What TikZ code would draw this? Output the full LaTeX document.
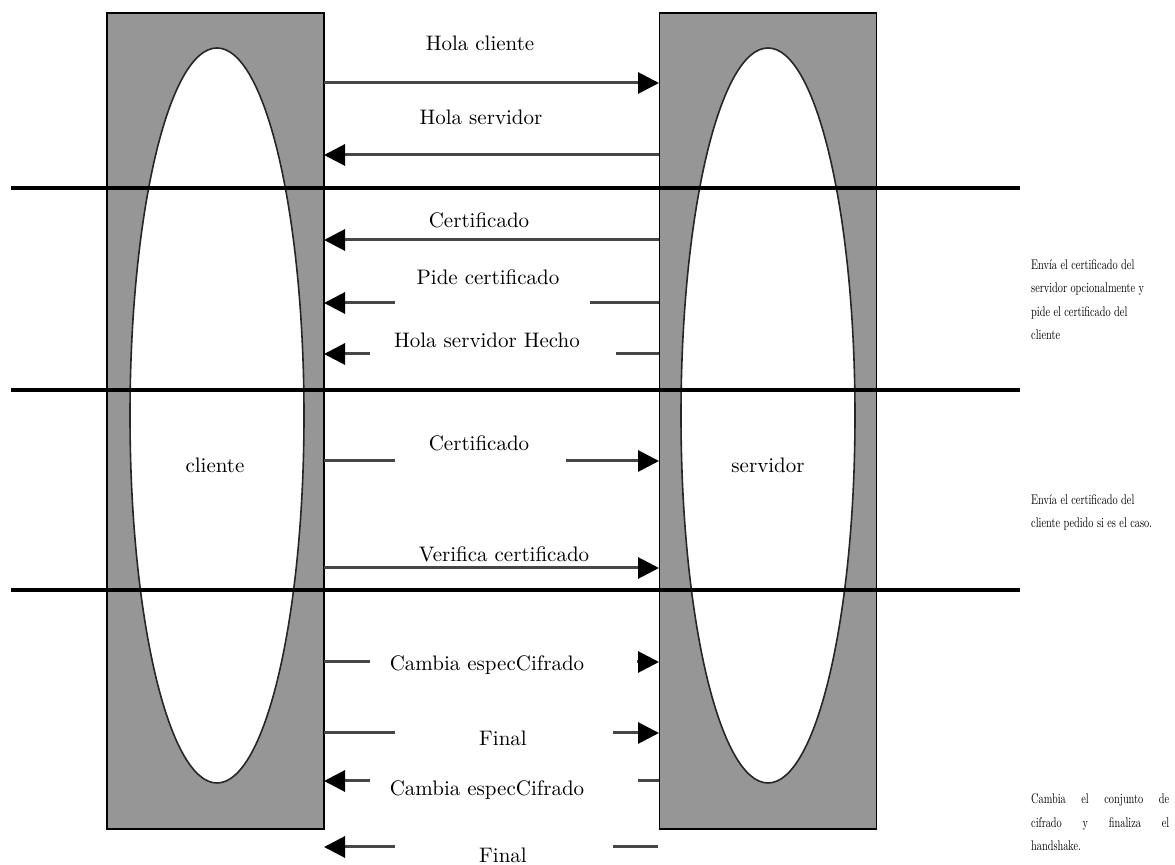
\documentclass[tikz,border=0pt]{standalone}
\usetikzlibrary{arrows.meta,shapes.geometric}
\definecolor{lanegray}{RGB}{150,150,150}
\definecolor{msggray}{RGB}{70,70,70}

\begin{document}
\begin{tikzpicture}[x=0.5pt, y=-0.5pt]
	\tikzstyle{every node}=[align=center, inner sep=1pt, font=\fontsize{10.5}{12}\selectfont]
	\tikzstyle{lane}=[draw=black, line width=0.8pt, fill=lanegray, minimum width=108.5pt, minimum height=408pt, inner sep=0pt]
	\tikzstyle{oval}=[ellipse, draw=black!85, line width=0.8pt, fill=white, minimum width=87pt, minimum height=367.5pt, inner sep=0pt]
	\tikzstyle{msg}=[draw=msggray, line width=1.5pt, arrows={-{Triangle[length=10.5pt, width=10.5pt, color=black]}}]
	\tikzstyle{sep}=[line width=1.8pt, black]
	\tikzstyle{note}=[align=left, anchor=west, inner sep=0pt, font=\fontsize{10}{16.8}\selectfont, xscale=0.515, yscale=0.7, transform shape]

	\useasboundingbox (0,0) rectangle (1175,865);

	\node[lane] (C) at (215.5, 421) {};
	\node[lane] (S) at (768, 421) {};
	\node[oval] (CE) at (217, 415.5) {};
	\node[oval] (SE) at (768, 415.5) {};
	\node (cli) at (215, 465) {cliente};
	\node (srv) at (768, 465) {servidor};

	\draw[sep] (11, 188) -- (1020, 188);
	\draw[sep] (11, 390) -- (1020, 390);
	\draw[sep] (11, 590) -- (1020, 590);

	\coordinate (c1) at (324, 83);   \coordinate (s1) at (659, 83);
	\coordinate (c2) at (324, 155);  \coordinate (s2) at (659, 155);
	\coordinate (c3) at (324, 240);  \coordinate (s3) at (659, 240);
	\coordinate (c4) at (324, 303);  \coordinate (s4) at (659, 303);
	\coordinate (c4x) at (395, 303); \coordinate (s4x) at (590, 303);
	\coordinate (c5) at (324, 354);  \coordinate (s5) at (659, 354);
	\coordinate (c5x) at (370, 354); \coordinate (s5x) at (616, 354);
	\coordinate (c6) at (324, 461);  \coordinate (s6) at (659, 461);
	\coordinate (c6x) at (395, 461); \coordinate (s6x) at (566, 461);
	\coordinate (c7) at (324, 568);  \coordinate (s7) at (659, 568);
	\coordinate (c8) at (324, 662);  \coordinate (s8) at (659, 662);
	\coordinate (c8x) at (370, 662); \coordinate (s8x) at (637, 662);
	\coordinate (c9) at (324, 733);  \coordinate (s9) at (659, 733);
	\coordinate (c9x) at (395, 733); \coordinate (s9x) at (613, 733);
	\coordinate (c10) at (324, 781);  \coordinate (s10) at (659, 781);
	\coordinate (c10x) at (370, 781); \coordinate (s10x) at (638, 781);
	\coordinate (c11) at (324, 847);  \coordinate (s11) at (658, 847);
	\coordinate (c11x) at (395, 847); \coordinate (s11x) at (613, 847);

	\draw[msg] (c1) to (s1);
	\draw[msg] (s2) to (c2);
	\draw[msg] (s3) to (c3);
	\draw[msg] (s4) -- (s4x) (c4x) -- (c4);
	\draw[msg] (s5) -- (s5x) (c5x) -- (c5);
	\draw[msg] (c6) -- (c6x) (s6x) -- (s6);
	\draw[msg] (c7) to (s7);
	\draw[msg] (c8) -- (c8x) (s8x) -- (s8);
	\draw[msg] (c9) -- (c9x) (s9x) -- (s9);
	\draw[msg] (s10) -- (s10x) (c10x) -- (c10);
	\draw[msg] (s11) -- (s11x) (c11x) -- (c11);

	\node (m1) at (480, 43) {Hola cliente};
	\node (m2) at (481, 117) {Hola servidor};
	\node (m3) at (479, 220) {Certificado};
	\node (m4) at (488, 277) {Pide certificado};
	\node (m5) at (487, 340) {Hola servidor Hecho};
	\node (m6) at (479, 443) {Certificado};
	\node (m7) at (504, 554) {Verifica certificado};
	\node (m8) at (487, 665) {Cambia especCifrado};
	\node (m9) at (503, 738) {Final};
	\node (m10) at (487, 790) {Cambia especCifrado};
	\node (m11) at (503, 855) {Final};

	\node[note] (n1) at (1031, 299.5) {Envía el certificado del\\servidor opcionalmente y\\pide el certificado del\\cliente};
	\node[note] (n2) at (1031, 512.5) {Envía el certificado del\\cliente pedido si es el caso.};
	\node[note] (n3) at (1031, 822.5) {\makebox[134pt][s]{Cambia el conjunto de}\\\makebox[134pt][s]{cifrado y finaliza el}\\handshake.};
\end{tikzpicture}
\end{document}
